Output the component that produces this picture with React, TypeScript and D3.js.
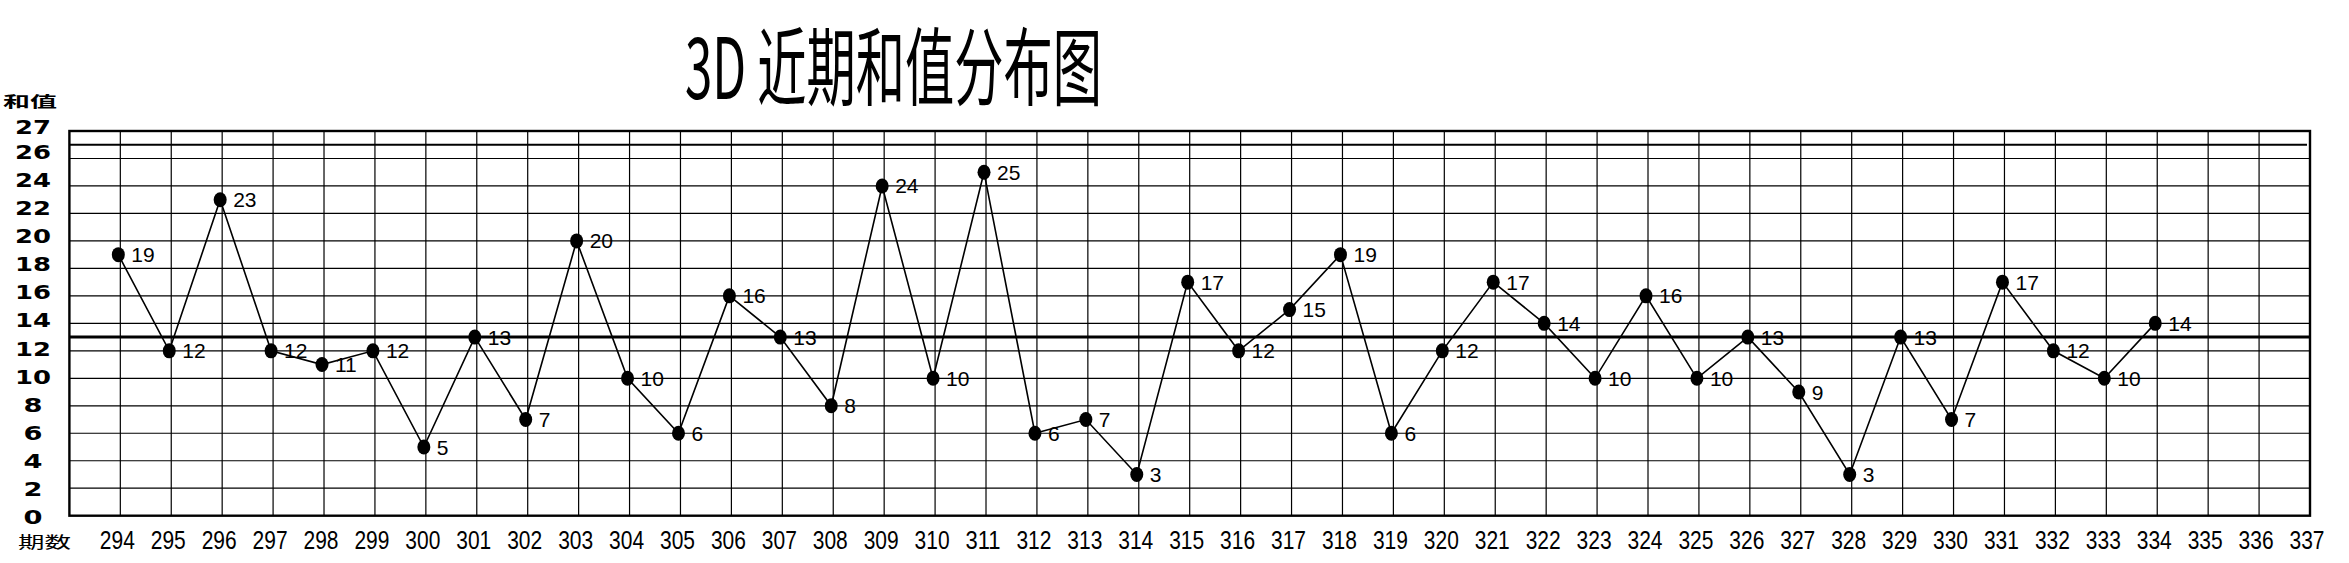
import * as d3 from "d3";
import React from "react";

// 期数 and 和值
const periods = [
  294, 295, 296, 297, 298, 299, 300, 301, 302, 303, 304, 305, 306, 307, 308, 309, 310, 311, 312, 313, 314,
  315, 316, 317, 318, 319, 320, 321, 322, 323, 324, 325, 326, 327, 328, 329, 330, 331, 332, 333, 334,
];
const sums = [
  19, 12, 23, 12, 11, 12, 5, 13, 7, 20, 10, 6, 16, 13, 8, 24, 10, 25, 6, 7, 3,
  17, 12, 15, 19, 6, 12, 17, 14, 10, 16, 10, 13, 9, 3, 13, 7, 17, 12, 10, 14,
];
const xTicks = [
  294, 295, 296, 297, 298, 299, 300, 301, 302, 303, 304, 305, 306, 307, 308, 309, 310, 311, 312, 313, 314,
  315, 316, 317, 318, 319, 320, 321, 322, 323, 324, 325, 326, 327, 328, 329, 330, 331, 332, 333, 334, 335,
  336, 337,
];
const yTicks = [0, 2, 4, 6, 8, 10, 12, 14, 16, 18, 20, 22, 24, 26, 27];
const gridValues = [2, 4, 6, 8, 10, 12, 14, 16, 18, 20, 22, 24, 26];
const maxLine = 27;
const avgLine = 13;

const title = "3D 近期和值分布图";

const W = 2349;
const H = 563;

const App: React.FC = () => {
  const x = d3.scaleLinear().domain([293, 337]).range([69.4, 2310]);
  const y = d3.scaleLinear().domain([0, 28]).range([515.7, 131]);
  // tick labels are spaced a bit wider than the grid in the original
  const labelY = d3.scaleLinear().domain([0, 26]).range([517, 152]);

  const points = periods.map((p, i) => ({ p, v: sums[i] }));
  const line = d3
    .line<{ p: number; v: number }>()
    .x((d) => x(d.p) - 2)
    .y((d) => y(d.v));

  const [x0, x1] = x.range();
  const [yBottom, yTop] = y.range();

  return (
    <svg
      width={W}
      height={H}
      style={{ position: "absolute", left: 0, top: 0, background: "#fff" }}
    >
      <rect width={W} height={H} fill="#fff" />

      <text
        x={685}
        y={99}
        fontFamily="'Noto Sans CJK SC', sans-serif"
        fontSize={85}
        textLength={417}
        lengthAdjust="spacingAndGlyphs"
        fill="#000"
      >
        {title}
      </text>

      {/* grid */}
      {gridValues.map((v) => (
        <line key={"h" + v} x1={x0} x2={x1} y1={y(v)} y2={y(v)} stroke="#000" strokeWidth={1.2} />
      ))}
      {xTicks.slice(0, -1).map((p) => (
        <line key={"v" + p} x1={x(p)} x2={x(p)} y1={yTop} y2={yBottom} stroke="#000" strokeWidth={1.2} />
      ))}
      <line x1={x0} x2={x1 - 3} y1={y(maxLine)} y2={y(maxLine)} stroke="#000" strokeWidth={1.8} />
      <line x1={x0} x2={x1} y1={y(avgLine)} y2={y(avgLine)} stroke="#000" strokeWidth={3} />
      <rect
        x={x0}
        y={yTop}
        width={x1 - x0}
        height={yBottom - yTop}
        fill="none"
        stroke="#000"
        strokeWidth={2.4}
      />

      {/* y labels */}
      <text
        x={30}
        y={107}
        textAnchor="middle"
        fontFamily="'Noto Sans CJK JP', sans-serif"
        fontWeight={700}
        fontSize={15}
        textLength={54}
        lengthAdjust="spacingAndGlyphs"
      >
        和值
      </text>
      {yTicks.map((v) => (
        <text
          key={"yl" + v}
          x={33}
          y={(v === 27 ? labelY(26) - 25 : labelY(v)) + 7}
          textAnchor="middle"
          fontFamily="'DejaVu Sans', sans-serif"
          fontWeight={600}
          fontSize={19}
          textLength={v < 10 ? 19 : 36}
          lengthAdjust="spacingAndGlyphs"
        >
          {v}
        </text>
      ))}

      {/* x labels */}
      <text
        x={44.5}
        y={548}
        textAnchor="middle"
        fontFamily="'Noto Sans CJK JP', sans-serif"
        fontSize={16}
        textLength={53}
        lengthAdjust="spacingAndGlyphs"
      >
        期数
      </text>
      {xTicks.map((p) => (
        <text
          key={"xl" + p}
          x={x(p) - 3}
          y={549}
          textAnchor="middle"
          fontFamily="'Liberation Sans', Arial, sans-serif"
          fontSize={26}
          textLength={35}
          lengthAdjust="spacingAndGlyphs"
        >
          {p}
        </text>
      ))}

      {/* series */}
      <path d={line(points) ?? ""} fill="none" stroke="#000" strokeWidth={1.6} />
      {points.map((d) => (
        <g key={"pt" + d.p}>
          <ellipse cx={x(d.p) - 2} cy={y(d.v)} rx={6.5} ry={7.5} fill="#000" />
          <text
            x={x(d.p) + 11}
            y={y(d.v) + 7.5}
            fontFamily="'Liberation Sans', Arial, sans-serif"
            fontSize={21}
            fill="#000"
          >
            {d.v}
          </text>
        </g>
      ))}
    </svg>
  );
};

export default App;
